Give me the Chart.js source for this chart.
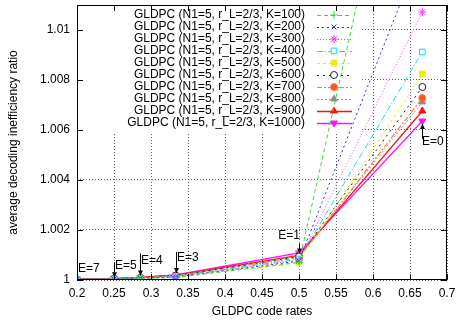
<!DOCTYPE html>
<html>
<head>
<meta charset="utf-8">
<script src="https://cdn.jsdelivr.net/npm/chart.js@4/dist/chart.umd.min.js"></script>
<style>
html, body { margin: 0; padding: 0; background: #fff; }
#wrap { width: 456px; height: 321px; }
</style>
</head>
<body>
<div id="wrap"><canvas id="myChart"></canvas></div>
<script>
// code rates on the x axis
const rates = [0.2, 0.25, 0.2857, 0.3333, 0.5, 0.6667];
const blockSizes = [100, 200, 300, 400, 500, 600, 700, 800, 900, 1000];

// average decoding inefficiency ratio, one list per K
const k100 = [1.00002, 1.00003, 1.00006, 1.0001, 1.0007, 1.0227];
const k200 = [1.00002, 1.00004, 1.00007, 1.00012, 1.00076, 1.0133];
const k300 = [1.00002, 1.00004, 1.00008, 1.00014, 1.0008, 1.01072];
const k400 = [1.00002, 1.00004, 1.00008, 1.00015, 1.00084, 1.00912];
const k500 = [1.00002, 1.00004, 1.00008, 1.00014, 1.00072, 1.00824];
const k600 = [1.00003, 1.00005, 1.00009, 1.00017, 1.00094, 1.00772];
const k700 = [1.00003, 1.00005, 1.00009, 1.00017, 1.0009, 1.00728];
const k800 = [1.00003, 1.00005, 1.00009, 1.00018, 1.00096, 1.00712];
const k900 = [1.00003, 1.00005, 1.0001, 1.00019, 1.00098, 1.00676];
const k1000 = [1.00003, 1.00006, 1.0001, 1.0002, 1.00108, 1.00636];
const allSeries = [k100, k200, k300, k400, k500, k600, k700, k800, k900, k1000];

const xTicks = [0.2, 0.25, 0.3, 0.35, 0.4, 0.45, 0.5, 0.55, 0.6, 0.65, 0.7];
const yTicks = [1, 1.002, 1.004, 1.006, 1.008, 1.01];

// E=.. labels next to the K=1000 points
const eLabels = ["E=7", "E=5", "E=4", "E=3", "E=1", "E=0"];
const eRates = [0.2, 0.25, 0.2857, 0.3333, 0.5, 0.6667];
const eValues = [1.0, 1.00003, 1.0001, 1.0002, 1.00098, 1.00636];

const FONT = "'Liberation Sans', Arial, Helvetica, sans-serif";

// line / marker look for each K
const styles = [
	{ color: "#33dd33", dash: [4, 3], point: "cross", fill: "#33dd33", r: 4, w: 1 },
	{ color: "#2a2aff", dash: [2, 3], point: "crossRot", fill: "#2a2aff", r: 3.5, w: 1 },
	{ color: "#ff33ff", dash: [1, 2], point: "star", fill: "#ff33ff", r: 4, w: 1 },
	{ color: "#11dddd", dash: [6, 2, 1, 2], point: "rect", fill: "#ffffff", r: 4, w: 1 },
	{ color: "#eeee00", dash: [3, 3], point: "rect", fill: "#eeee00", r: 4, w: 1 },
	{ color: "#222222", dash: [2, 4], point: "circle", fill: "#ffffff", r: 3.5, w: 1 },
	{ color: "#ff7a45", dash: [5, 2, 2, 2], point: "circle", fill: "#ff5522", r: 3.5, w: 1.2 },
	{ color: "#999999", dash: [2, 2], point: "triangle", fill: "#888888", r: 4, w: 1 },
	{ color: "#ff1111", dash: [], point: "triangle", fill: "#ff1111", r: 4, w: 1.3 },
	{ color: "#ff11ff", dash: [], point: "triangle", fill: "#ff11ff", r: 4, w: 1.3, rot: 180 },
];

const datasets = allSeries.map((vals, i) => ({
	label: `GLDPC (N1=5, r_L=2/3, K=${blockSizes[i]})`,
	data: rates.map((r, j) => ({ x: r, y: vals[j] })),
	borderColor: styles[i].color,
	backgroundColor: styles[i].fill,
	borderWidth: styles[i].w,
	borderDash: styles[i].dash,
	pointStyle: styles[i].point,
	pointRadius: styles[i].r,
	pointRotation: styles[i].rot || 0,
	pointBorderColor: styles[i].color,
	pointBackgroundColor: styles[i].fill,
	pointBorderWidth: 1,
	tension: 0,
}));

// gnuplot style key: white box, text right aligned, sample on the right
const keyPlugin = {
	id: "key",
	beforeDatasetsDraw(chart) {
		const { ctx, chartArea } = chart;
		ctx.save();
		ctx.fillStyle = "#fff";
		ctx.fillRect(chartArea.left + 1, chartArea.top + 1, 284, 127);
		ctx.font = `12px ${FONT}`;
		ctx.textAlign = "right";
		ctx.textBaseline = "middle";
		chart.data.datasets.forEach((ds, i) => {
			const y = 15 + i * 12;
			ctx.fillStyle = "#000";
			ctx.fillText(ds.label, 305, y);
			ctx.strokeStyle = ds.borderColor;
			ctx.lineWidth = ds.borderWidth;
			ctx.setLineDash(ds.borderDash);
			ctx.beginPath();
			ctx.moveTo(317, y + 0.5);
			ctx.lineTo(352, y + 0.5);
			ctx.stroke();
			ctx.setLineDash([]);
			ctx.lineWidth = 1;
			if (Chart.helpers && Chart.helpers.drawPoint) {
				ctx.fillStyle = ds.pointBackgroundColor;
				ctx.strokeStyle = ds.pointBorderColor;
				Chart.helpers.drawPoint(ctx, {
					pointStyle: ds.pointStyle,
					radius: ds.pointRadius,
					rotation: ds.pointRotation,
					borderWidth: 1,
				}, 334, y);
			}
		});
		ctx.restore();
	},
};

// box and inward ticks on all four sides
const framePlugin = {
	id: "frame",
	afterDatasetsDraw(chart) {
		const { ctx, chartArea: a, scales } = chart;
		ctx.save();
		ctx.strokeStyle = "#000";
		ctx.lineWidth = 1;
		ctx.setLineDash([]);
		ctx.beginPath();
		xTicks.forEach((v) => {
			const px = Math.round(scales.x.getPixelForValue(v)) + 0.5;
			ctx.moveTo(px, a.bottom);
			ctx.lineTo(px, a.bottom - 6);
			ctx.moveTo(px, a.top);
			ctx.lineTo(px, a.top + 6);
		});
		yTicks.forEach((v) => {
			const py = Math.round(scales.y.getPixelForValue(v)) + 0.5;
			ctx.moveTo(a.left, py);
			ctx.lineTo(a.left + 6, py);
			ctx.moveTo(a.right, py);
			ctx.lineTo(a.right - 6, py);
		});
		ctx.stroke();
		ctx.strokeRect(a.left + 0.5, a.top + 0.5, a.right - a.left - 1, a.bottom - a.top - 1);
		ctx.restore();
	},
};

// E=.. labels with small arrows; offsets are pixels from the point
const noteLayout = [
	{ dx: 1, dy: -11, align: "left", arrow: null },
	{ dx: 1, dy: -14, align: "left", arrow: [-17, -2] },
	{ dx: 1, dy: -17, align: "left", arrow: [-24, -2] },
	{ dx: 1, dy: -17, align: "left", arrow: [-23, -2] },
	{ dx: 1, dy: -20, align: "right", arrow: [-12, -2] },
	{ dx: 0, dy: 21, align: "left", arrow: [18, 3] },
];

const notePlugin = {
	id: "notes",
	afterDatasetsDraw(chart) {
		const { ctx, scales } = chart;
		ctx.save();
		ctx.font = `12px ${FONT}`;
		ctx.textBaseline = "middle";
		ctx.fillStyle = "#000";
		ctx.strokeStyle = "#000";
		ctx.lineWidth = 1;
		eLabels.forEach((txt, i) => {
			const px = Math.round(scales.x.getPixelForValue(eRates[i]));
			const py = scales.y.getPixelForValue(eValues[i]);
			const lay = noteLayout[i];
			ctx.textAlign = lay.align;
			ctx.fillText(txt, px + lay.dx, py + lay.dy);
			if (lay.arrow) {
				const y0 = py + lay.arrow[0];
				const y1 = py + lay.arrow[1];
				const dir = y1 > y0 ? 1 : -1;
				ctx.beginPath();
				ctx.moveTo(px + 0.5, y0);
				ctx.lineTo(px + 0.5, y1);
				ctx.stroke();
				ctx.beginPath();
				ctx.moveTo(px + 0.5, y1);
				ctx.lineTo(px - 2, y1 - dir * 5);
				ctx.lineTo(px + 3, y1 - dir * 5);
				ctx.closePath();
				ctx.fill();
			}
		});
		ctx.restore();
	},
};

Chart.defaults.font.family = FONT;
Chart.defaults.font.size = 12;
Chart.defaults.color = "#000";

const ctx = document.getElementById("myChart").getContext("2d");
const myChart = new Chart(ctx, {
	type: "line",
	data: { datasets: datasets },
	options: {
		responsive: true,
		maintainAspectRatio: false,
		animation: false,
		layout: { padding: { left: 0, top: 3, right: 9, bottom: 0 } },
		plugins: {
			legend: { display: false },
			tooltip: { enabled: false },
		},
		scales: {
			x: {
				type: "linear",
				min: 0.2,
				max: 0.7,
				afterBuildTicks: (s) => {
					s.ticks = xTicks.map((v) => ({ value: v }));
				},
				afterFit: (s) => {
					s.height = 41;
					s.paddingLeft = 0;
					s.paddingRight = 0;
				},
				ticks: {
					padding: 6,
					maxRotation: 0,
					autoSkip: false,
					callback: (v) => String(+v.toFixed(2)),
				},
				grid: { color: "rgba(0,0,0,0.6)", lineWidth: 1, drawTicks: false },
				border: { display: false, dash: [1, 2] },
				title: { display: true, text: "GLDPC code rates", padding: { top: 0, bottom: 2 } },
			},
			y: {
				type: "linear",
				min: 1,
				max: 1.011,
				afterBuildTicks: (s) => {
					s.ticks = yTicks.map((v) => ({ value: v }));
				},
				afterFit: (s) => {
					s.width = 77;
					s.paddingTop = 0;
					s.paddingBottom = 0;
				},
				ticks: {
					padding: 7,
					autoSkip: false,
					callback: (v) => String(+v.toFixed(3)),
				},
				grid: { color: "rgba(0,0,0,0.6)", lineWidth: 1, drawTicks: false },
				border: { display: false, dash: [1, 2] },
				title: { display: true, text: "average decoding inefficiency ratio", padding: { top: 6, bottom: 0 } },
			},
		},
	},
	plugins: [keyPlugin, framePlugin, notePlugin],
});
</script>
</body>
</html>
